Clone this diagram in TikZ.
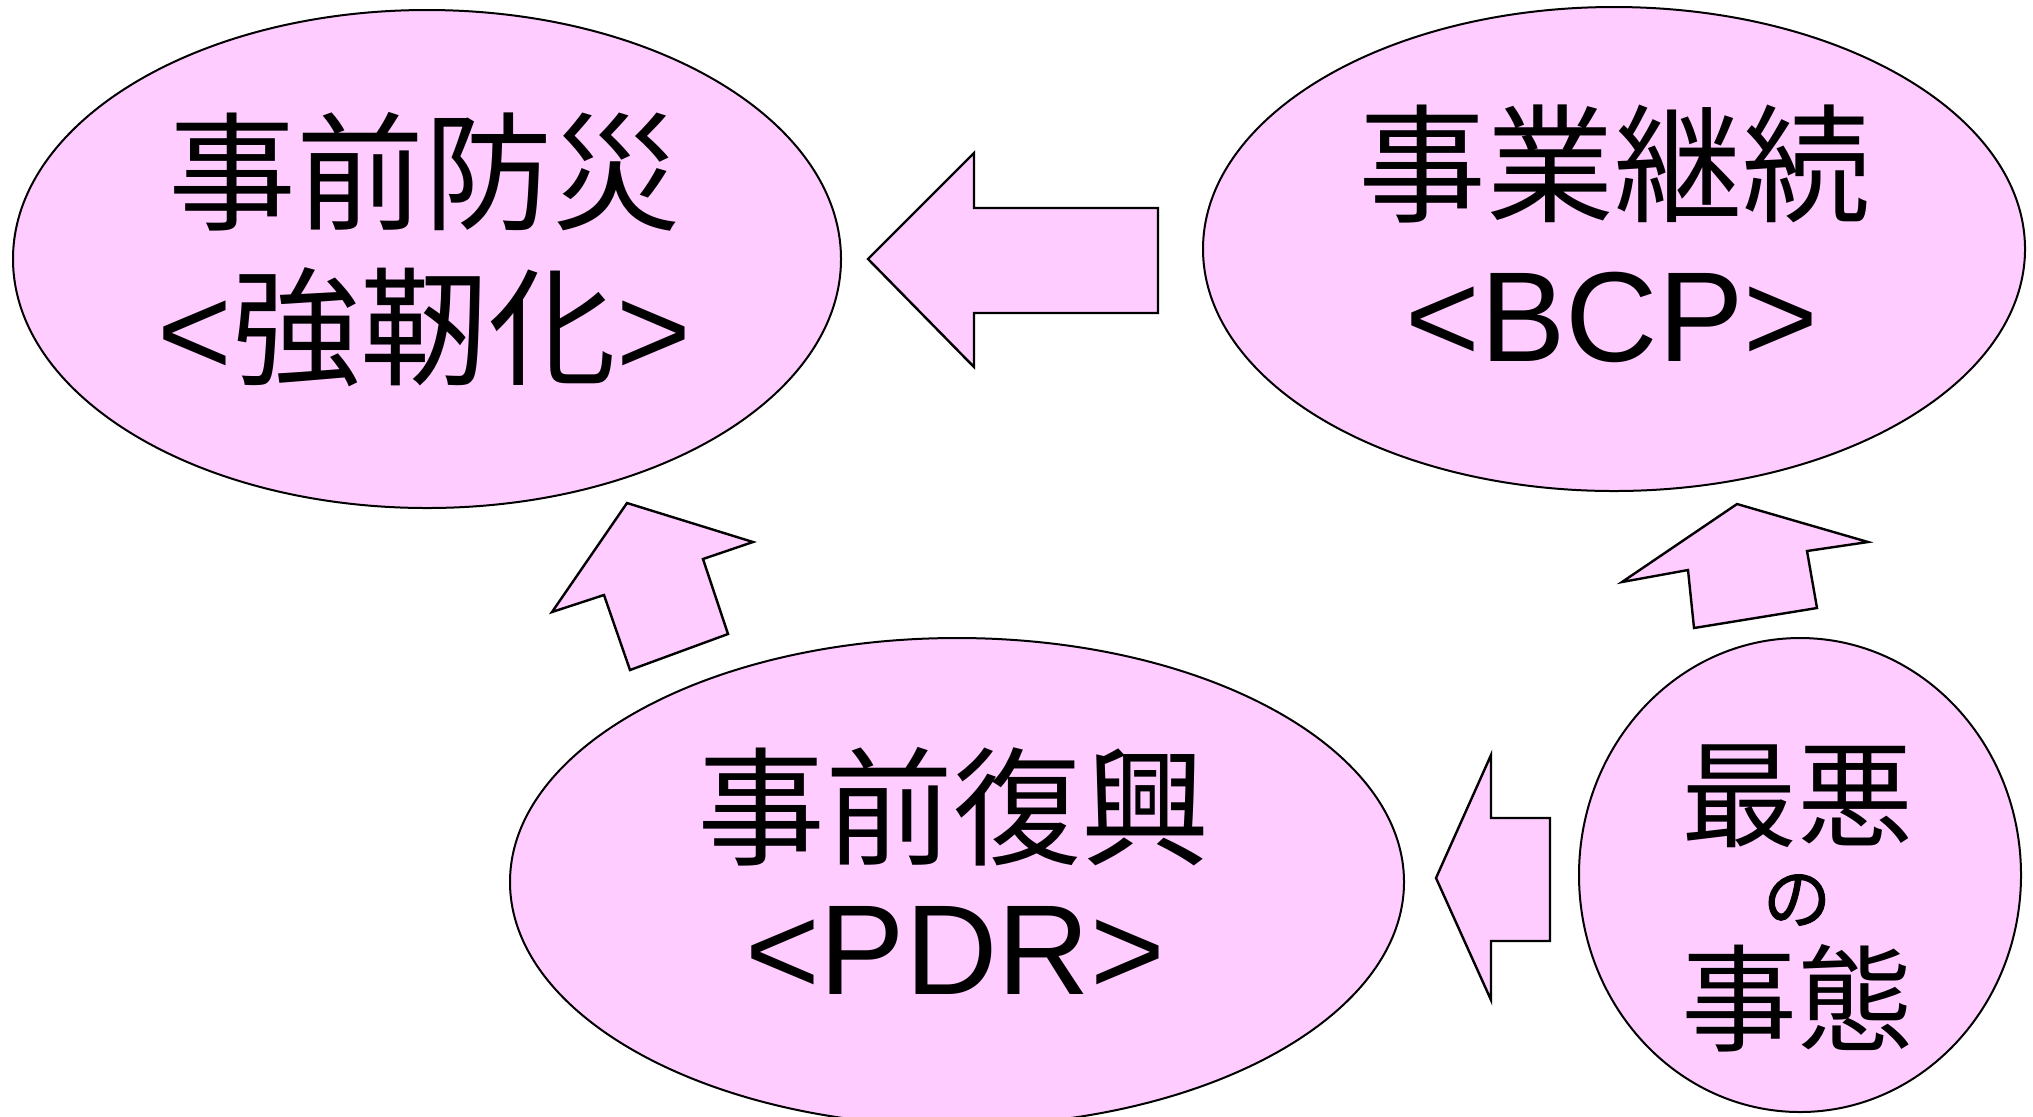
\documentclass[tikz,border=0pt]{standalone}
\usepackage{fontspec}
\setmainfont{Liberation Sans}
\newfontfamily\jpfont{Noto Sans CJK JP}
\newfontfamily\jpboldfont[FakeBold=1.5]{Noto Sans CJK JP}
\usetikzlibrary{shapes.geometric}
\definecolor{blobpink}{HTML}{FFCCFF}
\newcommand\jp[1]{{\fontsize{64}{70}\selectfont\jpfont #1}}
\newcommand\jpmid[1]{{\fontsize{58}{64}\selectfont\jpfont #1}}
\newcommand\jpsmall[1]{{\fontsize{34}{40}\selectfont\jpboldfont #1}}
\begin{document}
\begin{tikzpicture}[x=0.5pt,y=-0.5pt,
  blob/.style={ellipse, draw=black, fill=blobpink, line width=1pt, inner sep=0pt},
  blockarrow/.style={draw=black, fill=blobpink, line width=1.2pt, line join=miter},
  txt/.style={inner sep=0pt, font=\fontsize{64}{70}\selectfont}]
\useasboundingbox (0,0) rectangle (2033,1116);
% ellipses
\node[blob, minimum width=414pt, minimum height=249pt] (tl) at (427,259) {};
\node[blob, minimum width=411pt, minimum height=242pt] (tr) at (1614,249) {};
\node[blob, minimum width=447pt, minimum height=244pt] (bm) at (957,882) {};
\node[blob, minimum width=221pt, minimum height=237pt] (ci) at (1800,875) {};
% block arrows
\draw[blockarrow] (552,612) -- (627,503) -- (753,542) -- (703,559) -- (728,634) -- (630,670) -- (604,595) -- cycle;
\draw[blockarrow] (1622,582) -- (1737,504) -- (1868,542) -- (1807,551) -- (1817,608) -- (1694,628) -- (1688,570) -- cycle;
\draw[blockarrow] (868,259) -- (974,153) -- (974,208) -- (1158,208) -- (1158,313) -- (974,313) -- (974,367) -- cycle;
\draw[blockarrow] (1436,878) -- (1491,755) -- (1491,818) -- (1550,818) -- (1550,941) -- (1491,941) -- (1491,1000) -- cycle;
% texts
\node[txt] (tl1) at (424,172) {\jp{事前防災}};
\node[txt] (tl2) at (424,327) {<\jp{強靭化}>};
\node[txt] (tr1) at (1614,164) {\jp{事業継続}};
\node[txt] (tr2) at (1612,317) {<BCP>};
\node[txt] (bm1) at (953,807) {\jp{事前復興}};
\node[txt] (bm2) at (955,950) {<PDR>};
\node[txt] (ci1) at (1797,796) {\jpmid{最悪}};
\node[txt] (ci2) at (1797,900) {\jpsmall{の}};
\node[txt] (ci3) at (1797,998) {\jpmid{事態}};
\end{tikzpicture}
\end{document}
